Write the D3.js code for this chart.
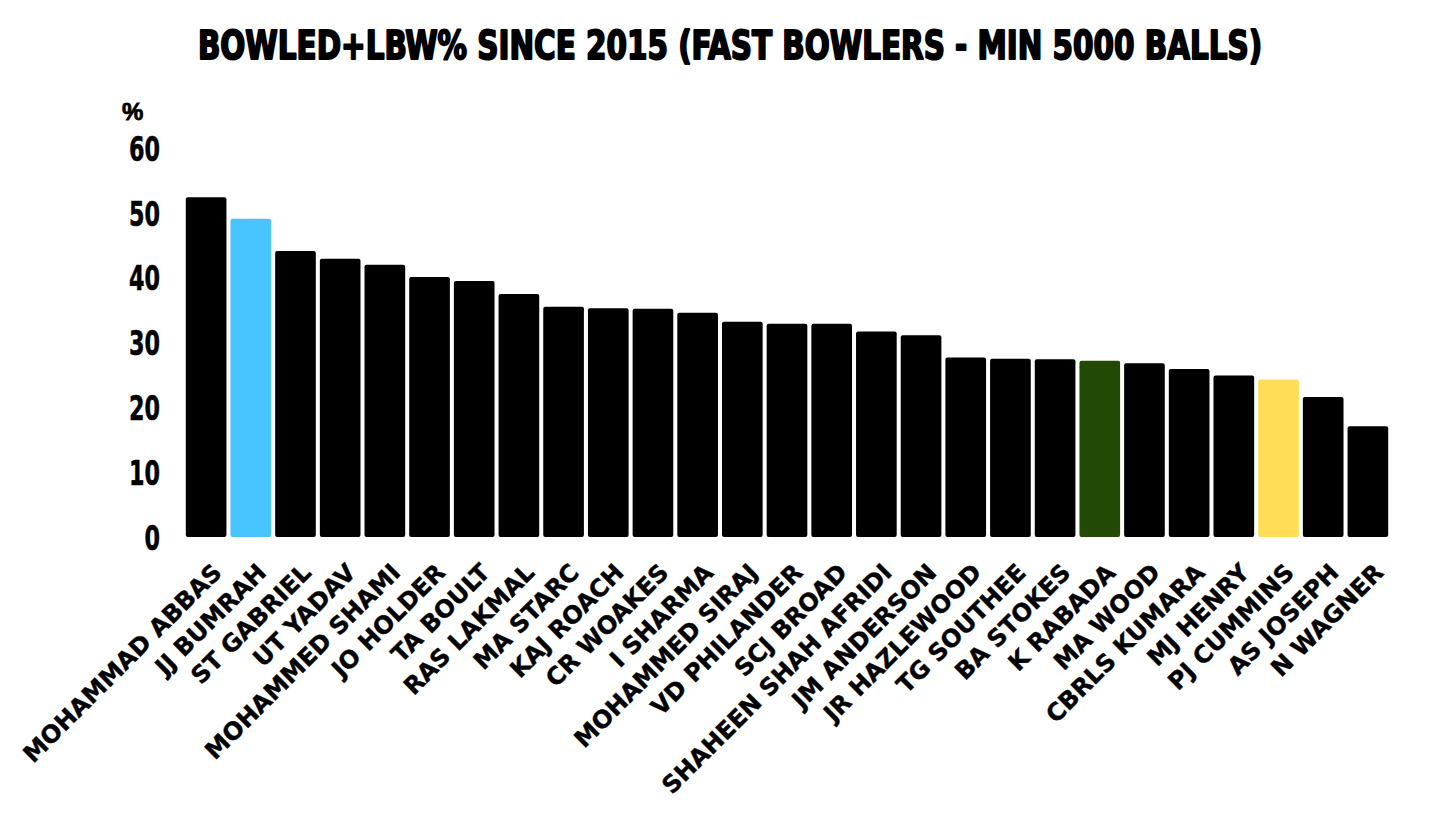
<!DOCTYPE html>
<html>
<head>
<meta charset="utf-8">
<script src="https://cdn.jsdelivr.net/npm/d3@7"></script>
<style>
  html, body { margin: 0; padding: 0; background: #ffffff; }
  svg { display: block; }
</style>
</head>
<body>
<svg id="chart" width="1456" height="819"></svg>
<script>
const bowlers = ["MOHAMMAD ABBAS","JJ BUMRAH","ST GABRIEL","UT YADAV","MOHAMMED SHAMI","JO HOLDER","TA BOULT","RAS LAKMAL","MA STARC","KAJ ROACH","CR WOAKES","I SHARMA","MOHAMMED SIRAJ","VD PHILANDER","SCJ BROAD","SHAHEEN SHAH AFRIDI","JM ANDERSON","JR HAZLEWOOD","TG SOUTHEE","BA STOKES","K RABADA","MA WOOD","CBRLS KUMARA","MJ HENRY","PJ CUMMINS","AS JOSEPH","N WAGNER"];
const pct = [52.4,49.1,44.1,42.9,42.0,40.1,39.5,37.5,35.5,35.3,35.2,34.6,33.2,32.9,32.9,31.7,31.1,27.7,27.5,27.4,27.2,26.8,25.9,24.9,24.3,21.6,17.1];
const highlight = {"JJ BUMRAH":"#48C4FC","K RABADA":"#224A04","PJ CUMMINS":"#FFDD57"};
const yTicks = [0,10,20,30,40,50,60];
const titleText = "BOWLED+LBW% SINCE 2015 (FAST BOWLERS - MIN 5000 BALLS)";

const svg = d3.select("#chart");
const x = d3.scaleBand().domain(bowlers).range([184, 1390]).paddingInner(0.09).paddingOuter(0.04);
const y = d3.scaleLinear().domain([0, 60]).range([537, 148]);

// title (font size fitted to the reference width, stretched vertically)
const title = svg.append("g").attr("transform", "translate(730,59) scale(1,1.2)")
  .append("text")
  .attr("x", 0).attr("y", 0)
  .attr("text-anchor", "middle")
  .style("font-family", "'Liberation Sans Narrow', 'DejaVu Sans Condensed', sans-serif")
  .style("font-weight", "bold").style("font-size", "39px")
  .attr("fill", "#000").attr("stroke", "#000").attr("stroke-width", 1.6).attr("stroke-linejoin", "round")
  .text(titleText);
const tw = title.node().getComputedTextLength();
if (tw > 0) title.style("font-size", Math.min(44, 39 * 1064 / tw) + "px");

// unit label
svg.append("text")
  .attr("x", 122).attr("y", 120)
  .style("font-family", "'Liberation Sans Narrow', sans-serif")
  .style("font-weight", "bold").style("font-size", "24px")
  .attr("fill", "#000").attr("stroke", "#000").attr("stroke-width", 0.8)
  .text("%");

// bars
svg.append("g").selectAll("rect").data(bowlers).join("rect")
  .attr("x", d => x(d))
  .attr("y", (d, i) => y(pct[i]))
  .attr("width", x.bandwidth())
  .attr("height", (d, i) => y(0) - y(pct[i]))
  .attr("rx", 2).attr("ry", 2)
  .attr("fill", d => highlight[d] || "#000");

// y axis
const yAxis = svg.append("g").attr("transform", "translate(160,0)")
  .call(d3.axisLeft(y).tickValues(yTicks).tickSize(0).tickPadding(0).tickFormat(d3.format("d")));
yAxis.select(".domain").remove();
yAxis.selectAll("text")
  .style("font-family", "'DejaVu Sans', sans-serif")
  .style("font-weight", "bold").style("font-size", "34px")
  .attr("fill", "#000").attr("stroke", "#000").attr("stroke-width", 0.6)
  .attr("textLength", d => String(d).length * 15.5)
  .attr("lengthAdjust", "spacingAndGlyphs")
  .attr("dy", "0.36em");

// x labels
const xAxis = svg.append("g").attr("transform", "translate(0,537)")
  .call(d3.axisBottom(x).tickSize(0).tickPadding(0));
xAxis.select(".domain").remove();
xAxis.selectAll(".tick text")
  .attr("y", 0).attr("dy", 0)
  .attr("transform", "translate(17,37) rotate(-45)")
  .attr("text-anchor", "end")
  .style("font-family", "'DejaVu Sans', sans-serif")
  .style("font-weight", "bold").style("font-size", "24px")
  .attr("fill", "#000").attr("stroke", "#000").attr("stroke-width", 0.4);
</script>
</body>
</html>
